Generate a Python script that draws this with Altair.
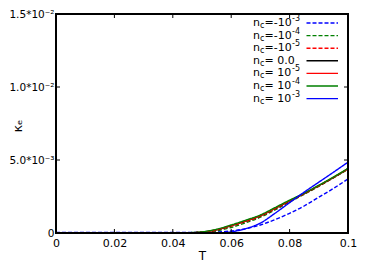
import altair as alt
import pandas as pd

T = [0.0, 0.005, 0.01, 0.015, 0.02, 0.025, 0.03, 0.035, 0.04, 0.045,
     0.05, 0.055, 0.06, 0.065, 0.07, 0.075, 0.08, 0.085, 0.09, 0.095, 0.1]

# kappa_e values in units of 1e-3
k_m3 = [0.03, 0.03, 0.03, 0.03, 0.03, 0.03, 0.03, 0.03, 0.03, 0.04,
        0.05, 0.07, 0.14, 0.30, 0.55, 0.92, 1.35, 1.85, 2.45, 3.05, 3.70]
k_m4 = [0, 0, 0, 0, 0, 0, 0, 0, 0, 0.01,
        0.03, 0.14, 0.38, 0.70, 1.08, 1.58, 2.12, 2.65, 3.20, 3.77, 4.37]
k_m5 = [0, 0, 0, 0, 0, 0, 0, 0, 0, 0.01,
        0.05, 0.20, 0.47, 0.79, 1.15, 1.65, 2.17, 2.68, 3.22, 3.79, 4.39]
k_0 = [0, 0, 0, 0, 0, 0, 0, 0, 0, 0.01,
       0.06, 0.22, 0.50, 0.82, 1.18, 1.68, 2.20, 2.70, 3.24, 3.80, 4.40]
k_p5 = [0, 0, 0, 0, 0, 0, 0, 0, 0, 0.01,
        0.06, 0.23, 0.51, 0.83, 1.19, 1.69, 2.21, 2.71, 3.25, 3.81, 4.41]
k_p4 = [0, 0, 0, 0, 0, 0, 0, 0, 0, 0.02,
        0.08, 0.26, 0.55, 0.88, 1.24, 1.74, 2.25, 2.73, 3.27, 3.83, 4.43]
k_p3 = [0, 0, 0, 0, 0, 0, 0, 0, 0, 0,
        0, 0.01, 0.08, 0.30, 0.68, 1.35, 2.08, 2.80, 3.48, 4.16, 4.85]

series = ["m3", "m4", "m5", "z", "p5", "p4", "p3"]
label_rest = ["=-10", "=-10", "=-10", "= 0.0", "= 10", "= 10", "= 10"]
label_sup = ["-3", "-4", "-5", "", "-5", "-4", "-3"]
colors = ["#0000ff", "#008000", "#ff0000", "#000000", "#ff0000", "#008000", "#0000ff"]
dashed = [True, True, True, False, False, False, False]
values = [k_m3, k_m4, k_m5, k_0, k_p5, k_p4, k_p3]

x_ticks = [0, 0.02, 0.04, 0.06, 0.08, 0.1]
y_ticks = [0, 0.005, 0.01, 0.015]
y_tick_labels = ["0", "5.0*10⁻³", "1.0*10⁻²", "1.5*10⁻²"]

rows = []
for s, vals, d in zip(series, values, dashed):
    for t, v in zip(T, vals):
        rows.append({"T": t, "k": v * 1e-3, "s": s, "dash": "d" if d else "s"})
df = pd.DataFrame(rows)

W, H = 292, 219
FONT = "DejaVu Sans"

xs = alt.Scale(domain=[0, 0.1], nice=False)
ys = alt.Scale(domain=[0, 0.015], nice=False)

label_expr = ("datum.value == 0 ? '" + y_tick_labels[0] + "' : datum.value < 0.007 ? '" + y_tick_labels[1]
              + "' : datum.value < 0.012 ? '" + y_tick_labels[2] + "' : '" + y_tick_labels[3] + "'")

dash_scale = alt.Scale(domain=["d", "s"], range=[[4, 2], [1, 0]])
color_scale = alt.Scale(domain=series, range=colors)

lines = alt.Chart(df).mark_line(strokeWidth=1.4, clip=True, interpolate="monotone").encode(
    x=alt.X("T:Q", scale=xs, title="T",
            axis=alt.Axis(values=x_ticks, tickSize=0, labelPadding=4, domain=False, grid=False,
                          labelFont=FONT, labelFontSize=11, labelColor="black",
                          labelExpr="datum.value == 0 ? '0' : format(datum.value, '.2~f')",
                          titleFont=FONT, titleFontSize=12, titleFontWeight="normal",
                          titleColor="black", titlePadding=2, labelFlush=False, labelOverlap=False)),
    y=alt.Y("k:Q", scale=ys, title="κₑ",
            axis=alt.Axis(values=y_ticks, tickSize=0, labelPadding=2, domain=False, grid=False,
                          labelFont=FONT, labelFontSize=10.5, labelColor="black",
                          labelExpr=label_expr, labelFlush=False, labelOverlap=False,
                          titleFont=FONT, titleFontSize=13, titleFontWeight="normal",
                          titleColor="black", titleX=-39, titleY=H / 2 + 2,
                          titleAngle=270, titleBaseline="middle", titleAlign="center")),
    color=alt.Color("s:N", scale=color_scale, legend=None),
    strokeDash=alt.StrokeDash("dash:N", scale=dash_scale, legend=None),
    detail="s:N",
)

xt = pd.DataFrame({"v": x_ticks})
yt = pd.DataFrame({"v": y_ticks})
xtick_b = alt.Chart(xt).mark_rule(color="black", strokeWidth=1).encode(
    x=alt.X("v:Q", scale=xs), y=alt.value(H), y2=alt.value(H - 4))
xtick_t = alt.Chart(xt).mark_rule(color="black", strokeWidth=1).encode(
    x=alt.X("v:Q", scale=xs), y=alt.value(0), y2=alt.value(4))
ytick_l = alt.Chart(yt).mark_rule(color="black", strokeWidth=1).encode(
    y=alt.Y("v:Q", scale=ys), x=alt.value(0), x2=alt.value(4))
ytick_r = alt.Chart(yt).mark_rule(color="black", strokeWidth=1).encode(
    y=alt.Y("v:Q", scale=ys), x=alt.value(W), x2=alt.value(W - 4))

frame = alt.Chart(xt).mark_rect(fill=None, stroke="black", strokeWidth=1.5).encode(
    x=alt.value(0), x2=alt.value(W), y=alt.value(0), y2=alt.value(H))

# custom legend
leg_x0 = 253 - 56
leg_y0 = 23 - 14
leg_dy = 12.6
leg = pd.DataFrame({
    "s": series,
    "rest": label_rest,
    "sup": label_sup,
    "ypix": [leg_y0 + i * leg_dy for i in range(len(series))],
    "dash": ["d" if d else "s" for d in dashed],
})
leg["x1"] = 306.5 - 56
leg["x2"] = 338 - 56

base_leg = alt.Chart(leg)
t_n = base_leg.mark_text(align="left", baseline="middle", font=FONT, fontSize=11, color="black").encode(
    x=alt.value(leg_x0), y=alt.Y("ypix:Q", scale=None), text=alt.value("n"))
t_c = base_leg.mark_text(align="left", baseline="middle", font=FONT, fontSize=8, color="black", dy=3).encode(
    x=alt.value(leg_x0 + 7), y=alt.Y("ypix:Q", scale=None), text=alt.value("c"))
t_rest = base_leg.mark_text(align="left", baseline="middle", font=FONT, fontSize=11, color="black").encode(
    x=alt.value(leg_x0 + 11.5), y=alt.Y("ypix:Q", scale=None), text="rest:N")
t_sup = base_leg.mark_text(align="left", baseline="middle", font=FONT, fontSize=8, color="black", dy=-4).encode(
    x=alt.value(leg_x0 + 39), y=alt.Y("ypix:Q", scale=None), text="sup:N")
leg_lines = base_leg.mark_rule(strokeWidth=1.4).encode(
    x=alt.X("x1:Q", scale=None), x2="x2:Q", y=alt.Y("ypix:Q", scale=None),
    color=alt.Color("s:N", scale=color_scale, legend=None),
    strokeDash=alt.StrokeDash("dash:N", scale=dash_scale, legend=None),
)

chart = alt.layer(lines, xtick_b, xtick_t, ytick_l, ytick_r, frame,
                  leg_lines, t_n, t_c, t_rest, t_sup).properties(
    width=W, height=H,
    background="white",
    autosize=alt.AutoSizeParams(type="none"),
    padding={"left": 48, "top": 6, "right": 10, "bottom": 33},
).configure_view(stroke=None)

chart.save("out.html", embed_options={"renderer": "svg", "actions": False})
